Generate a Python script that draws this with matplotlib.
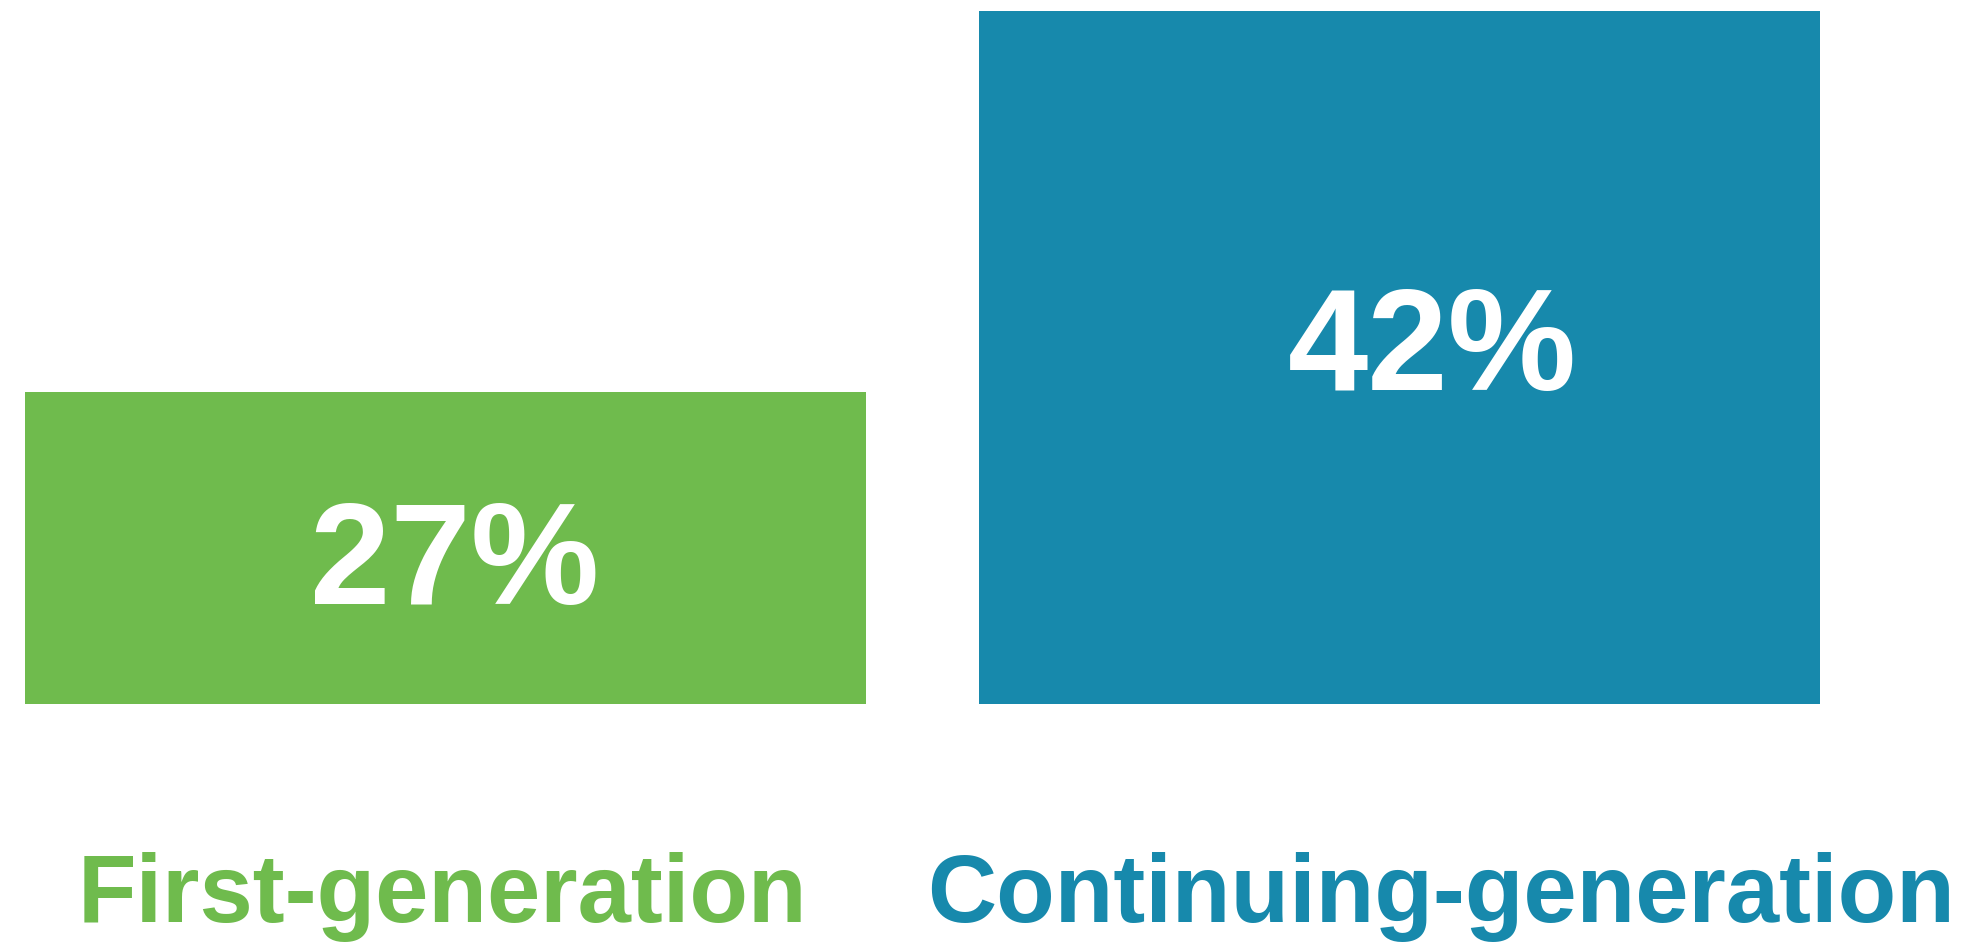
import matplotlib
matplotlib.use('Agg')
import matplotlib.pyplot as plt

plt.rcParams['font.family'] = ['Liberation Sans', 'DejaVu Sans']

# data
groups = ['First-generation', 'Continuing-generation']
values = [27, 42]
colors = ['#6FBB4D', '#1789AC']
base = 14.7  # y axis does not start at zero in the original

W, H = 1968, 942
fig = plt.figure(figsize=(W / 100, H / 100), dpi=100)
ax = fig.add_axes([25 / W, (H - 704) / H, (1820 - 25) / W, (704 - 11) / H])

xs = list(range(len(values)))
bw = 841 / 954
ax.bar(xs, [v - base for v in values], bottom=base, width=bw, color=colors)
ax.set_xlim(-bw / 2, xs[-1] + bw / 2)
ax.set_ylim(base, max(values))
ax.axis('off')

# value labels inside bars (not exactly centred in the original)
dx = [0.01, 0.034]
dy = [-0.75, 0.2]
for x, v, d, e in zip(xs, values, dx, dy):
    ax.text(x + d, (base + v) / 2 + e, f'{v}%', color='white', fontsize=104,
            fontweight='bold', ha='center', va='center')

# category labels under the bars
label_x = [442 / W, 1441 / W]
for lx, g, c in zip(label_x, groups, colors):
    fig.text(lx, (H - 922) / H, g, color=c, fontsize=69, fontweight='bold',
             ha='center', va='baseline')

fig.savefig('out.png', dpi=100)
